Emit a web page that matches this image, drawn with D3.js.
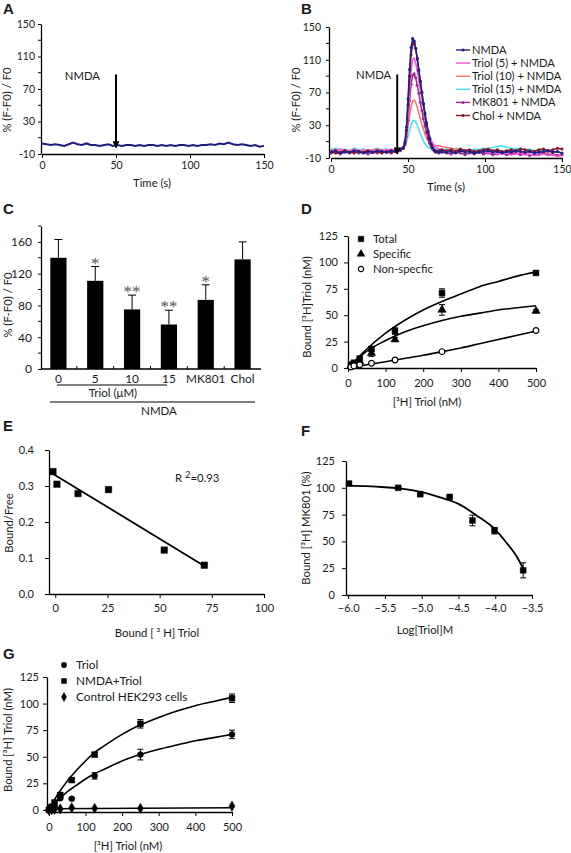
<!DOCTYPE html>
<html><head><meta charset="utf-8">
<script src="https://cdn.jsdelivr.net/npm/d3@7"></script>
<style>
body{margin:0;background:#fff;}
svg text{font-family:Lato,"Open Sans",sans-serif;fill:#1a1a1a;}
</style></head><body>
<svg id="fig" width="571" height="853" xmlns="http://www.w3.org/2000/svg"></svg>
<script>
// ---------- DATA ----------
// Panel A
const timeA = [0,3,6,9,12,15,18,21,24,27,30,33,36,39,42,45,48,51,54,57,60,63,66,69,72,75,78,81,84,87,90,93,96,99,102,105,108,111,114,117,120,123,126,129,132,135,138,141,144,147,150];
const valueA = [3,2,1,2,1,0,2,4,2,1,3,1,1,0,1,2,0,1,0,1,1,0,1,0,1,1,0,1,0,1,0,1,1,0,1,0,1,1,2,1,3,2,4,2,1,2,1,0,1,-1,0];
const ticksTime = [0,50,100,150];
const ticksCa = [-10,30,70,110,150];
const minorCa = [10,50,90,130];
const arrowA = {t:50, from:88, to:-2, label:"NMDA"};

// Panel B
const timeB = [0,3,6,9,12,15,18,21,24,27,30,33,36,39,42,45,47,48,49,50,51,52,53,54,55,56,57,58,59,60,61,62,63,64,65,66,67,68,70,72,75,78,81,84,87,90,93,96,99,102,105,108,111,114,117,120,123,126,129,132,135,138,141,144,147,150];
const nmdaB = [-3,-1,-4,-2,-3,-1,-2,-4,-2,-3,-1,-2,-3,-1,-2,0, 3,10,28,62,98,125,136,133,124,111,97,83,70,57,45,33,23,14,7,3,0,-2, -3,-2, -3,-2,-4,-1,-3,-2,-4,-3,-2,-1,-3,-2,-4,-2,-3,-1,-2,-3,-2,-4,-3,-2,-1,-3,-2,-4];
const triol5B = [0,-2,1,-1,-3,0,-1,-2,0,-1,-2,0,-1,1,-1,1, 2,6,18,42,72,96,110,112,106,96,85,74,63,52,42,33,25,18,12,8,5,3, 1,0, -1,0,-2,-1,0,-2,-3,-1,-2,-4,-3,-5,-4,-3,-6,-5,-4,-6,-5,-7,-6,-5,-7,-6,-8,-7];
const triol10B = [-1,1,-2,0,-1,1,-1,0,-2,0,1,-1,0,-1,1,2, 4,8,16,28,42,53,59,61,58,52,45,38,31,25,19,15,11,9,7,6,6,5, 5,4, 3,2,1,0,-1,0,-2,-1,-2,-3,-1,-2,-3,-2,-4,-3,-2,-4,-3,-2,-3,-4,-3,-2,-3,-4];
const triol15B = [1,2,0,1,-1,2,0,1,-1,0,2,0,1,-1,0,1, 2,4,9,16,24,31,35,36,34,30,25,20,15,11,7,5,3,2,1,1,0,0, 1,0, 1,0,2,1,0,-1,1,0,2,1,3,4,5,3,2,1,2,0,1,-1,0,-2,-1,-3,-2,-4];
const mk801B = [-4,-3,-5,-3,-4,-2,-4,-3,-5,-3,-4,-2,-3,-4,-2,-1, 2,6,16,36,60,80,91,93,88,79,69,58,48,38,29,21,14,8,4,1,-1,-3, -4,-3, -4,-5,-3,-4,-6,-4,-5,-3,-5,-4,-6,-5,-4,-6,-5,-4,-6,-5,-7,-5,-6,-4,-6,-5,-7,-6];
const cholB = [-2,-4,-3,-1,-3,-4,-2,-3,-1,-3,-2,-4,-2,-3,-1,0, 2,8,24,55,90,116,129,131,124,112,98,84,70,56,43,31,21,13,6,2,-1,-2, -1,0, -1,0,-2,1,-1,0,-2,-1,0,1,-1,0,-2,-1,0,-1,1,0,-1,-2,0,1,-1,0,2,1];
const legendB = ["NMDA","Triol (5) + NMDA","Triol (10) + NMDA","Triol (15) + NMDA","MK801 + NMDA","Chol + NMDA"];
const arrowB = {t:43, from:92, to:-5, label:"NMDA"};

// Panel C
const catsC = ["0","5","10","15","MK801","Chol"];
const meanC = [140,111,75,56,87,138];
const errC = [23,18,18,18,19,22];
const sigC = ["","*","**","**","*",""];
const ticksC = [0,40,80,120,160];
const minorC = [20,60,100,140,180];

// Panel D
const concD = [7.8,15.6,31.2,62.5,125,250,500];
const totalD = [3,5,9,18,35,71,90];
const totalErrD = [1,1,1,2,3,4,1];
const specificD = [2,3,6,14,27,55,54];
const specificErrD = [1,1,1,3,2,5,1];
const nonspecD = [1,2,3,4.5,7.5,15.5,35.5];
const curveXD = [0,50,100,150,200,250,300,350,400,450,500];
const totalCurveD = [0,18,33,45,55,63,70,77,82,87,91];
const specificCurveD = [0,16,26,34,40,45,49,52,55,57,59];
const nonspecCurveD = [0,3,6,9,12,15.5,19,23,27,31,35];
const ticksXD = [0,100,200,300,400,500];
const ticksYD = [0,25,50,75,100,125];
const legendD = ["Total","Specific","Non-specfic"];

// Panel E
const boundE = [-1.1,0.8,10.9,25.5,52.2,71.4];
const ratioE = [0.34,0.305,0.279,0.29,0.122,0.08];
const fitXE = [-2,71.4];
const fitYE = [0.337,0.078];
const ticksXE = [0,25,50,75,100];
const ticksYE = [0,0.1,0.2,0.3,0.4];

// Panel F
const logF = [-5.99,-5.32,-5.02,-4.62,-4.31,-4.01,-3.62];
const pctF = [104,100,94,91.5,69.5,60,23];
const errF = [1,1,1,1,5,3,7];
const curveXF = [-6.0,-5.75,-5.5,-5.25,-5.0,-4.75,-4.5,-4.25,-4.0,-3.85,-3.7,-3.6];
const curveYF = [102,101.5,100.5,99,96,91,85,74,61,49,35,22];
const ticksXF = [-6.0,-5.5,-5.0,-4.5,-4.0,-3.5];
const ticksYF = [0,25,50,75,100,125];

// Panel G
const concG = [0,7.8,15.6,31.2,62.5,125,250,500];
const nmdaTriolG = [0,3,7,14,28,52,81,105];
const nmdaTriolErrG = [0,1,1,2,2,2,4,4];
const triolG = [0,1,3,11,10.5,32,52,71];
const triolErrG = [0,0,1,1,1,3,5,4];
const controlG = [0,0,0.5,1,2,1.5,1.5,3.5];
const curveXG = [0,25,50,75,100,125,150,200,250,300,350,400,450,500];
const nmdaCurveG = [0,15,27,37,46,54,60,71,80,87,93,98,102,106];
const triolCurveG = [0,9,17,23,29,34,38,46,52,57,61,65,68,71];
const controlLineX = [0,500];
const controlLineY = [1,2];
const ticksXG = [0,100,200,300,400,500];
const ticksYG = [0,25,50,75,100,125];
const legendG = ["Triol","NMDA+Triol","Control HEK293 cells"];

// ---------- DRAWING ----------
const TF = 11.3; // title / legend font size
const svg = d3.select("#fig");
svg.append("rect").attr("width",571).attr("height",853).attr("fill","#fff");
const defs = svg.append("defs");
defs.append("marker").attr("id","arr").attr("viewBox","0 0 10 10").attr("refX",9).attr("refY",5)
  .attr("markerWidth",9).attr("markerHeight",7).attr("markerUnits","userSpaceOnUse").attr("orient","auto")
  .append("path").attr("d","M0,0L10,5L0,10z").attr("fill","#000");

function axes(x, y, o) {
  const gx = svg.append("g").attr("transform",`translate(0,${o.xAxisY ?? y.range()[0]})`)
    .call(d3.axisBottom(x).tickValues(o.xTicks).tickFormat(o.xFmt || (d=>d))
      .tickSize(o.xts ?? 4).tickSizeOuter(0).tickPadding(o.xpad ?? 4));
  const gy = svg.append("g").attr("transform",`translate(${o.yAxisX ?? x.range()[0]},0)`)
    .call(d3.axisLeft(y).tickValues(o.yTicks).tickFormat(o.yFmt || (d=>d))
      .tickSize(o.yts ?? 4).tickSizeOuter(0).tickPadding(o.ypad ?? 3));
  [gx,gy].forEach(a=>{
    a.attr("font-family",null).attr("font-size",null);
    a.select(".domain").attr("stroke","#000").attr("stroke-width",1.3);
    a.selectAll(".tick line").attr("stroke","#000").attr("stroke-width",1);
    a.selectAll(".tick text").attr("fill","#1a1a1a").style("font-size",(o.fs||10)+"px");
  });
  return {gx,gy};
}
function minorY(x0, y, vals, len) {
  svg.append("g").selectAll("line").data(vals).join("line")
    .attr("x1",x0-len).attr("x2",x0).attr("y1",d=>y(d)).attr("y2",d=>y(d)).attr("stroke","#000");
}
function yTitle(text, bx, cy, fs) {
  const t = svg.append("text").attr("transform",`translate(${bx},${cy}) rotate(-90)`)
    .attr("text-anchor","middle").style("font-size",(fs||TF)+"px");
  return t.text(text);
}
function xTitle(text, cx, by, fs) {
  return svg.append("text").attr("x",cx).attr("y",by).attr("text-anchor","middle")
    .style("font-size",(fs||TF)+"px").text(text);
}
function panelLabel(t, x, y) {
  svg.append("text").attr("x",x).attr("y",y).text(t)
    .style("font-family","'Liberation Sans',Arial,sans-serif").style("font-weight","bold").style("font-size","15px").attr("fill","#000");
}
function errBars(x, y, xs, ys, es, cap) {
  const g = svg.append("g").attr("stroke","#000").attr("stroke-width",1);
  xs.forEach((xv,i)=>{
    if (!es[i]) return;
    const px = x(xv), y1 = y(ys[i]-es[i]), y2 = y(ys[i]+es[i]);
    g.append("line").attr("x1",px).attr("x2",px).attr("y1",y1).attr("y2",y2);
    g.append("line").attr("x1",px-cap).attr("x2",px+cap).attr("y1",y1).attr("y2",y1);
    g.append("line").attr("x1",px-cap).attr("x2",px+cap).attr("y1",y2).attr("y2",y2);
  });
}
function symbols(x, y, xs, ys, type, size, fill) {
  svg.append("g").selectAll("path").data(xs).join("path")
    .attr("transform",(d,i)=>`translate(${x(d)},${y(ys[i])})`)
    .attr("d",d3.symbol(type,size)())
    .attr("fill",fill||"#000").attr("stroke","#000").attr("stroke-width",fill==="#fff"?1.2:0.5);
}
function curve(x, y, xs, ys, w) {
  svg.append("path").datum(xs.map((d,i)=>[d,ys[i]]))
    .attr("d",d3.line().x(d=>x(d[0])).y(d=>y(d[1])).curve(d3.curveMonotoneX))
    .attr("fill","none").attr("stroke","#000").attr("stroke-width",w||1.6);
}

// ===== Panel A =====
{
  panelLabel("A",3,14);
  const x = d3.scaleLinear().domain([0,150]).range([42,264]);
  const y = d3.scaleLinear().domain([-10,150]).range([154,24]);
  axes(x,y,{xTicks:ticksTime,yTicks:ticksCa,yts:3,ypad:3,xts:4,xpad:4,fs:10.5,yAxisX:41});
  minorY(41,y,minorCa,3);
  svg.append("path").datum(timeA.map((t,i)=>[t,valueA[i]]))
    .attr("d",d3.line().x(d=>x(d[0])).y(d=>y(d[1])))
    .attr("fill","none").attr("stroke","#1c1c80").attr("stroke-width",2);
  svg.append("line").attr("x1",x(arrowA.t)).attr("x2",x(arrowA.t)).attr("y1",y(arrowA.from)).attr("y2",y(arrowA.to))
    .attr("stroke","#000").attr("stroke-width",2).attr("marker-end","url(#arr)");
  svg.append("text").attr("x",x(arrowA.t)-16).attr("y",y(arrowA.from)+6).attr("text-anchor","end")
    .style("font-size",TF+"px").text(arrowA.label);
  xTitle("Time (s)",152,187);
  yTitle("% (F-F0) / F0",11,100);
}

// ===== Panel B =====
{
  panelLabel("B",301,14);
  const x = d3.scaleLinear().domain([0,150]).range([331,562]);
  const y = d3.scaleLinear().domain([-10,150]).range([158,27]);
  axes(x,y,{xTicks:ticksTime,yTicks:ticksCa,yts:3,ypad:5,xts:4,xpad:4,fs:10.5,yAxisX:329});
  minorY(329,y,minorCa,3);
  const series = [
    {v:triol15B,c:"#3fe3ec",m:false},
    {v:triol10B,c:"#ff6f6f",m:false},
    {v:mk801B,c:"#9c2c98",m:true},
    {v:triol5B,c:"#ff4fd8",m:false},
    {v:cholB,c:"#8a1424",m:true},
    {v:nmdaB,c:"#1f1f8a",m:true}
  ];
  const line = d3.line().x(d=>x(d[0])).y(d=>y(d[1]));
  series.forEach(s=>{
    const pts = timeB.map((t,i)=>[t,s.v[i]]);
    svg.append("path").datum(pts).attr("d",line).attr("fill","none").attr("stroke",s.c).attr("stroke-width",1.5);
    if (s.m) svg.append("g").selectAll("circle").data(pts).join("circle")
      .attr("cx",d=>x(d[0])).attr("cy",d=>y(d[1])).attr("r",1.5).attr("fill",s.c);
  });
  svg.append("line").attr("x1",x(arrowB.t)).attr("x2",x(arrowB.t)).attr("y1",y(arrowB.from)).attr("y2",y(arrowB.to))
    .attr("stroke","#000").attr("stroke-width",2).attr("marker-end","url(#arr)");
  svg.append("text").attr("x",x(arrowB.t)-6).attr("y",y(arrowB.from)+5).attr("text-anchor","end")
    .style("font-size",TF+"px").text(arrowB.label);
  // legend
  const legOrder = [{c:"#1f1f8a",m:true},{c:"#ff4fd8",m:false},{c:"#ff6f6f",m:false},{c:"#3fe3ec",m:false},{c:"#9c2c98",m:true},{c:"#8a1424",m:true}];
  legendB.forEach((name,i)=>{
    const yy = 50 + i*13.1;
    svg.append("line").attr("x1",456).attr("x2",470).attr("y1",yy).attr("y2",yy).attr("stroke",legOrder[i].c).attr("stroke-width",1.4);
    if (legOrder[i].m) svg.append("circle").attr("cx",463).attr("cy",yy).attr("r",1.5).attr("fill",legOrder[i].c);
    svg.append("text").attr("x",472).attr("y",yy+4).style("font-size","11.1px").text(name);
  });
  xTitle("Time (s)",446,191);
  yTitle("% (F-F0) / F0",300,100);
}

// ===== Panel C =====
{
  panelLabel("C",3,214);
  const x = d3.scaleBand().domain(catsC).range([40,261]).paddingInner(0.56).paddingOuter(0.28);
  const y = d3.scaleLinear().domain([0,180]).range([369,226]);
  const gy = svg.append("g").attr("transform","translate(41,0)")
    .call(d3.axisLeft(y).tickValues(ticksC).tickSize(3).tickSizeOuter(0).tickPadding(6));
  gy.attr("font-family",null).attr("font-size",null);
  gy.select(".domain").attr("stroke","#000").attr("stroke-width",1.3);
  gy.selectAll(".tick line").attr("stroke","#000");
  gy.selectAll(".tick text").attr("fill","#1a1a1a").style("font-size","12px");
  minorY(41,y,minorC,3);
  svg.append("line").attr("x1",41).attr("x2",261).attr("y1",y(0)).attr("y2",y(0)).attr("stroke","#000").attr("stroke-width",1.3);
  svg.append("g").selectAll("line").data(catsC.slice(1)).join("line")
    .attr("x1",d=>x(d)-x.step()*0.28).attr("x2",d=>x(d)-x.step()*0.28)
    .attr("y1",y(0)).attr("y2",y(0)-3).attr("stroke","#000");
  const eg = svg.append("g").attr("stroke","#000").attr("stroke-width",1);
  catsC.forEach((c,i)=>{
    const cx = x(c)+x.bandwidth()/2;
    eg.append("line").attr("x1",cx).attr("x2",cx).attr("y1",y(meanC[i])).attr("y2",y(meanC[i]+errC[i]));
    eg.append("line").attr("x1",cx-4).attr("x2",cx+4).attr("y1",y(meanC[i]+errC[i])).attr("y2",y(meanC[i]+errC[i]));
  });
  svg.append("g").selectAll("rect").data(catsC).join("rect")
    .attr("x",d=>x(d)).attr("width",x.bandwidth())
    .attr("y",(d,i)=>y(meanC[i])).attr("height",(d,i)=>y(0)-y(meanC[i])).attr("fill","#000");
  svg.append("g").selectAll("text").data(catsC).join("text")
    .attr("x",d=>x(d)+x.bandwidth()/2).attr("y",(d,i)=>y(meanC[i]+errC[i])+2)
    .attr("text-anchor","middle").style("font-family","'Liberation Serif','DejaVu Serif',serif")
    .style("font-size","17px").style("fill","#555").text((d,i)=>sigC[i]);
  svg.append("g").selectAll("text").data(catsC).join("text")
    .attr("x",d=>x(d)+x.bandwidth()/2).attr("y",383).attr("text-anchor","middle")
    .style("font-size","11.8px").text(d=>d);
  svg.append("line").attr("x1",57).attr("x2",167).attr("y1",385).attr("y2",385).attr("stroke","#000").attr("stroke-width",1);
  xTitle("Triol (μM)",113,397,11.5);
  svg.append("line").attr("x1",50).attr("x2",255).attr("y1",402).attr("y2",402).attr("stroke","#000").attr("stroke-width",1.2);
  xTitle("NMDA",159,415,11.5);
  yTitle("% (F-F0) / F0",12,305);
}

// ===== Panel D =====
{
  panelLabel("D",301,214);
  const x = d3.scaleLinear().domain([0,500]).range([348,536]);
  const y = d3.scaleLinear().domain([0,125]).range([368,236]);
  axes(x,y,{xTicks:ticksXD,yTicks:ticksYD,yts:4,ypad:6,xts:4,xpad:7,fs:11});
  curve(x,y,curveXD,totalCurveD);
  curve(x,y,curveXD,specificCurveD);
  curve(x,y,curveXD,nonspecCurveD);
  errBars(x,y,concD,totalD,totalErrD,3);
  errBars(x,y,concD,specificD,specificErrD,3);
  symbols(x,y,concD,totalD,d3.symbolSquare,34);
  symbols(x,y,concD,specificD,d3.symbolTriangle,30);
  symbols(x,y,concD,nonspecD,d3.symbolCircle,26,"#fff");
  const types = [[d3.symbolSquare,30,"#000"],[d3.symbolTriangle,26,"#000"],[d3.symbolCircle,22,"#fff"]];
  legendD.forEach((n,i)=>{
    const yy = 239 + i*15;
    svg.append("path").attr("transform",`translate(361,${yy})`).attr("d",d3.symbol(types[i][0],types[i][1])())
      .attr("fill",types[i][2]).attr("stroke","#000").attr("stroke-width",types[i][2]==="#fff"?1.2:0.5);
    svg.append("text").attr("x",373).attr("y",yy+4).style("font-size",TF+"px").text(n);
  });
  xTitle("[³H] Triol (nM)",427,406);
  yTitle("Bound [³H]Triol (nM)",311,307);
}

// ===== Panel E =====
{
  panelLabel("E",3,431);
  const x = d3.scaleLinear().domain([-3,100]).range([49,264]);
  const y = d3.scaleLinear().domain([0,0.4]).range([594,450]);
  axes(x,y,{xTicks:ticksXE,yTicks:ticksYE,yFmt:d3.format(".1f"),yts:4,ypad:11,xts:4,xpad:6,fs:11});
  curve(x,y,fitXE,fitYE,1.8);
  symbols(x,y,boundE,ratioE,d3.symbolSquare,42);
  const r = svg.append("text").attr("x",175).attr("y",482).style("font-size",TF+"px");
  r.append("tspan").text("R ");
  r.append("tspan").attr("dy",-4).style("font-size","9.5px").text("2");
  r.append("tspan").attr("dy",4).text("=0.93");
  xTitle("Bound [ ³ H] Triol",157,637);
  yTitle("Bound/Free",13,523);
}

// ===== Panel F =====
{
  panelLabel("F",301,436);
  const x = d3.scaleLinear().domain([-6.03,-3.5]).range([346,532]);
  const y = d3.scaleLinear().domain([0,125]).range([595,461]);
  axes(x,y,{xTicks:ticksXF,yTicks:ticksYF,xFmt:d3.format(".1f"),yts:4,ypad:7,xts:4,xpad:5,fs:11});
  curve(x,y,curveXF,curveYF,1.8);
  errBars(x,y,logF,pctF,errF,3);
  symbols(x,y,logF,pctF,d3.symbolSquare,34);
  xTitle("Log[Triol]M",425,634);
  yTitle("Bound [³H] MK801 (%)",310,528);
}

// ===== Panel G =====
{
  panelLabel("G",3,659);
  const x = d3.scaleLinear().domain([-5,500]).range([47,232]);
  const y = d3.scaleLinear().domain([-2,125]).range([812,677]);
  axes(x,y,{xTicks:ticksXG,yTicks:ticksYG,yts:4,ypad:4,xts:4,xpad:7,fs:11});
  curve(x,y,curveXG,nmdaCurveG);
  curve(x,y,curveXG,triolCurveG);
  curve(x,y,controlLineX,controlLineY,1.4);
  errBars(x,y,concG,nmdaTriolG,nmdaTriolErrG,3);
  errBars(x,y,concG,triolG,triolErrG,3);
  symbols(x,y,concG,triolG,d3.symbolCircle,28);
  symbols(x,y,concG,nmdaTriolG,d3.symbolSquare,34);
  symbols(x,y,concG,controlG,d3.symbolDiamond,30);
  const types = [[d3.symbolCircle,26],[d3.symbolSquare,30],[d3.symbolDiamond,28]];
  legendG.forEach((n,i)=>{
    const yy = 665 + i*16;
    svg.append("path").attr("transform",`translate(64,${yy})`).attr("d",d3.symbol(types[i][0],types[i][1])()).attr("fill","#000");
    svg.append("text").attr("x",76).attr("y",yy+4).style("font-size","11.8px").text(n);
  });
  xTitle("[³H] Triol (nM)",128,850);
  yTitle("Bound [³H] Triol (nM)",12,740);
}
</script>
</body></html>
